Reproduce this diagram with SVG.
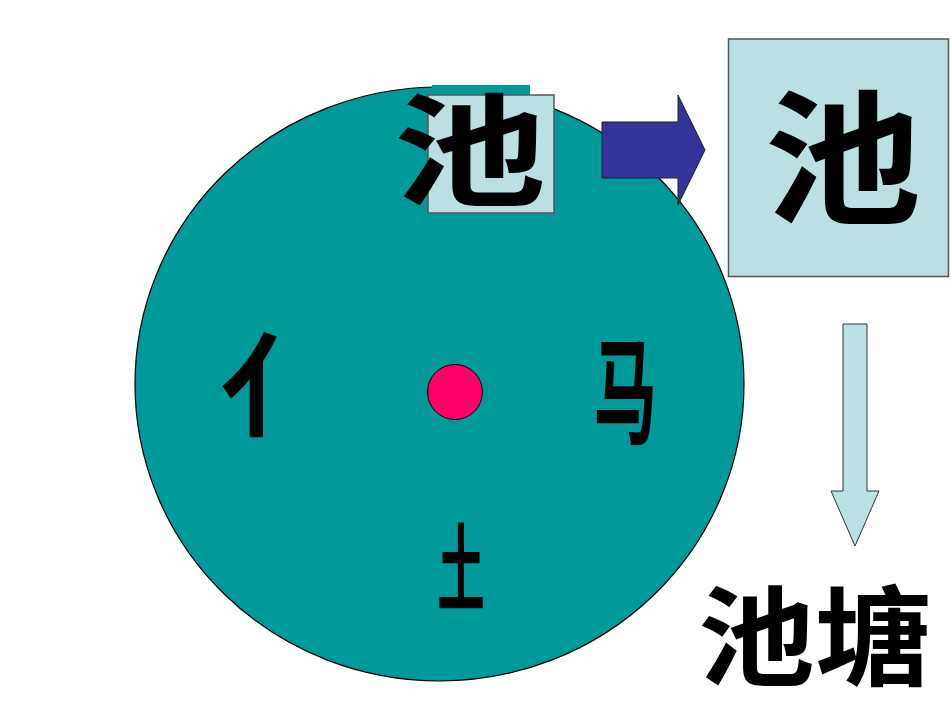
<svg xmlns="http://www.w3.org/2000/svg" width="950" height="713" viewBox="0 0 950 713">
<style>
.cjk{font-family:"Noto Sans CJK SC","Noto Sans CJK JP",sans-serif;font-weight:700;fill:#000;text-anchor:middle}
.box{fill:#BBE0E3;stroke:#555;stroke-width:1.5}
</style>
<rect width="950" height="713" fill="#fff"/>
<g id="wheel">
<ellipse cx="439.5" cy="384" rx="304.5" ry="297" fill="#009999" stroke="#000" stroke-width="1.2"/>
<rect x="432" y="85" width="98" height="20" fill="#009999"/>
</g>
<g id="center-dot">
<circle cx="455" cy="392" r="27.5" fill="#FF0066" stroke="#000" stroke-width="1"/>
</g>
<g id="radical-left">
<text class="cjk" font-size="112" transform="translate(276,428)">亻</text>
</g>
<g id="radical-right">
<text class="cjk" font-size="115" transform="translate(625,434) scale(0.55,1)">马</text>
</g>
<g id="radical-bottom">
<text class="cjk" font-size="95" transform="translate(461,604) scale(0.5,1)">土</text>
</g>
<g id="top-char">
<rect class="box" x="428" y="95" width="126" height="118"/>
<text class="cjk" font-size="122" transform="translate(470,196) scale(1.25,1)">池</text>
</g>
<g id="big-char">
<rect class="box" x="728.5" y="39" width="220" height="237.5"/>
<text class="cjk" font-size="145" transform="translate(843,213) scale(1.08,1)">池</text>
</g>
<g id="word">
<text class="cjk" font-size="108" transform="translate(815,677) scale(1.08,1)">池塘</text>
</g>
<g id="connectors">
<polygon points="602,122 678,122 678,95 705,150 678,205 678,178 602,178" fill="#333399" stroke="#222" stroke-width="1"/>
<polygon points="843,324 867,324 867,491 879,491 855,546 831,491 843,491" fill="#BBE0E3" stroke="#333" stroke-width="1"/>
</g>
</svg>
